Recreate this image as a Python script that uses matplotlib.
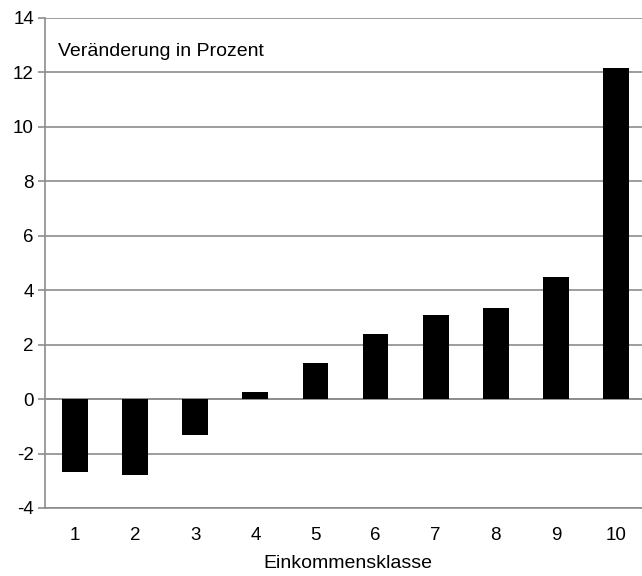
import matplotlib.pyplot as plt
import numpy as np

plt.rcParams['font.family'] = ['Liberation Sans', 'DejaVu Sans']
plt.rcParams['axes.unicode_minus'] = False

# Data
klassen = [1, 2, 3, 4, 5, 6, 7, 8, 9, 10]
veraenderung = [-2.66, -2.79, -1.31, 0.25, 1.31, 2.39, 3.08, 3.33, 4.48, 12.15]
yticks = np.arange(-4, 15, 2)

fig = plt.figure(figsize=(6.42, 5.76), dpi=100)
# axes runs slightly past the right edge, like the cropped original
ax = fig.add_axes([45 / 642, 1 - 508 / 576, 601 / 642, 490 / 576])

ax.bar(klassen, veraenderung, width=0.43, color='black', zorder=3)

ax.set_xlim(0.5, 10.5)
ax.set_ylim(-4, 14)
ax.set_yticks(yticks)
ax.set_xticks(klassen)
ax.yaxis.grid(True, color='#8c8c8c', linewidth=1.2, zorder=0)
ax.axhline(0, color='#8c8c8c', linewidth=1.2, zorder=1)

for s in ['top', 'right']:
    ax.spines[s].set_visible(False)
ax.spines['left'].set_color('#8c8c8c')
ax.spines['bottom'].set_color('#8c8c8c')
ax.spines['left'].set_linewidth(1.2)
ax.spines['bottom'].set_linewidth(1.2)

ax.tick_params(axis='y', length=5, color='#8c8c8c', width=1.2, labelsize=13.5, pad=3)
ax.tick_params(axis='x', length=0, labelsize=13.5, pad=14)

ax.text(0.022, 0.95, 'Veränderung in Prozent', transform=ax.transAxes,
        fontsize=14, va='top', ha='left')
fig.text(348 / 642, 1 - 563 / 576, 'Einkommensklasse', fontsize=14,
         ha='center', va='center')

fig.savefig('out.png', dpi=100)
